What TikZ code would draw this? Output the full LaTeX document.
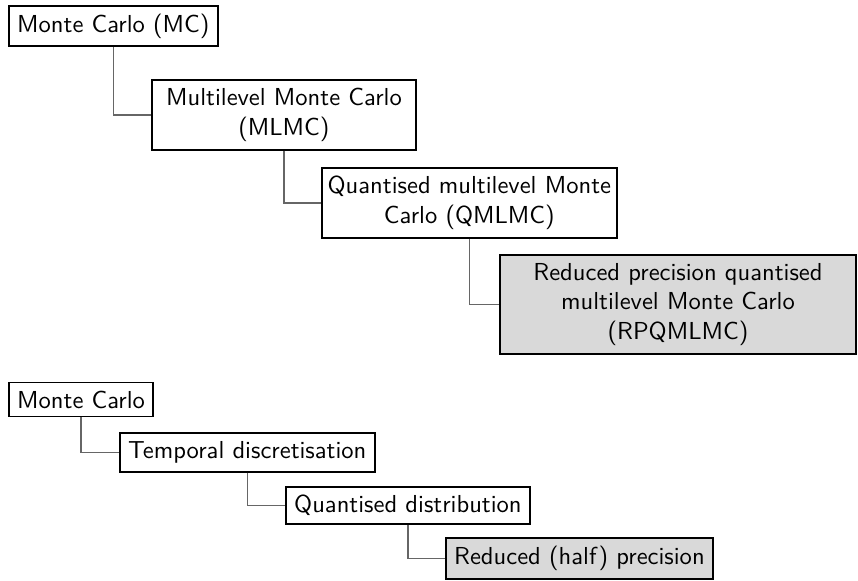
\documentclass[tikz,border=0pt]{standalone}
\usepackage{tikz}
\usetikzlibrary{positioning, calc}

\begin{document}
\begin{tikzpicture}[x=0.407pt, y=-0.407pt, font=\sffamily,
    box/.style={draw, thick, fill=white, anchor=west, align=center},
    hlbox/.style={box, fill=gray!30},
    link/.style={draw=gray!80!black, line width=0.5pt}]
    \useasboundingbox (0,0) rectangle (858,581);

    % Upper chain
    \node[box] (mc) at (8,26) {Monte Carlo (MC)};
    \node[box, minimum width=107.4pt] (mlmc) at (151,115) {Multilevel Monte Carlo\\(MLMC)};
    \node[box, inner xsep=2.3pt] (qmlmc) at (321,203) {Quantised multilevel Monte\\Carlo (QMLMC)};
    \node[hlbox, minimum width=144.9pt] (rpq) at (499,304.5) {Reduced precision quantised\\multilevel Monte Carlo\\(RPQMLMC)};

    \draw[link] (mc.south) |- (mlmc.west);
    \draw[link] (mlmc.south) |- (qmlmc.west);
    \draw[link] (qmlmc.south) |- (rpq.west);

    % Lower chain
    \node[box] (mcb) at (8,399.5) {Monte Carlo};
    \node[box] (temp) at (119,452.5) {Temporal discretisation};
    \node[box] (quant) at (285,505.5) {Quantised distribution};
    \node[hlbox] (half) at (445,558.5) {Reduced (half) precision};

    \draw[link] (mcb.south) |- (temp.west);
    \draw[link] (temp.south) |- (quant.west);
    \draw[link] (quant.south) |- (half.west);
\end{tikzpicture}
\end{document}
